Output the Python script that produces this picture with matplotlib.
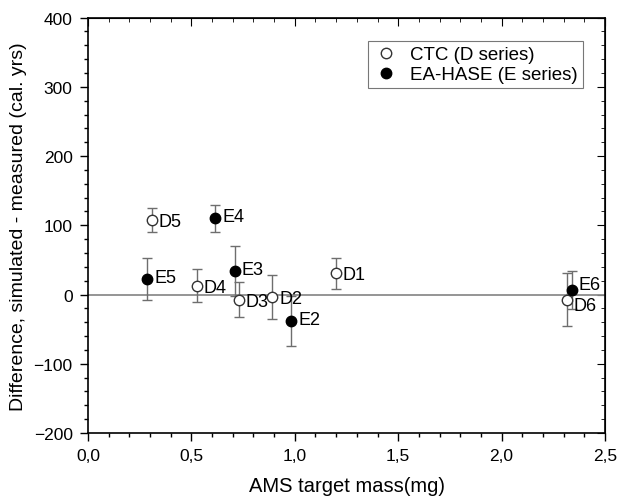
import matplotlib
matplotlib.use("Agg")
import matplotlib.pyplot as plt
from matplotlib.ticker import MultipleLocator, FuncFormatter

plt.rcParams["font.family"] = ["Liberation Sans", "DejaVu Sans"]

# CTC (D series)
d_labels = ["D1", "D2", "D3", "D4", "D5", "D6"]
d_mass = [1.198, 0.890, 0.729, 0.526, 0.308, 2.315]
d_diff = [30.6, -3.6, -7.5, 12.7, 108.0, -7.5]
d_err = [22, 31.5, 25, 24, 17, 38]

# EA-HASE (E series)
e_labels = ["E2", "E3", "E4", "E5", "E6"]
e_mass = [0.982, 0.709, 0.616, 0.287, 2.339]
e_diff = [-37.8, 33.5, 110.0, 22.4, 6.5]
e_err = [36, 36, 20, 30, 28]

fig = plt.figure(figsize=(6.18, 5.02), dpi=100)
ax = fig.add_axes([0.1424, 0.1355, 0.979 - 0.1424, 0.963 - 0.1355])

ax.axhline(0, color="#8c8c8c", lw=1.3, zorder=1)

err_kw = dict(fmt="none", ecolor="#6e6e6e", elinewidth=1.0, capsize=3.5, capthick=1.0, zorder=2)
ax.errorbar(d_mass, d_diff, yerr=d_err, **err_kw)
ax.errorbar(e_mass, e_diff, yerr=e_err, **err_kw)

ax.plot(d_mass, d_diff, "o", ms=7.5, mfc="white", mec="#333333", mew=1.0,
        ls="none", label="CTC (D series)", zorder=3)
ax.plot(e_mass, e_diff, "o", ms=7.5, mfc="black", mec="black", mew=1.0,
        ls="none", label="EA-HASE (E series)", zorder=4)

for x, y, t in zip(d_mass, d_diff, d_labels):
    dy = -4 if t == "D6" else -1
    ax.annotate(t, (x, y), xytext=(5, dy), textcoords="offset points",
                ha="left", va="center", fontsize=13)
for x, y, t in zip(e_mass, e_diff, e_labels):
    dy = 4 if t == "E6" else 1
    ax.annotate(t, (x, y), xytext=(5, dy), textcoords="offset points",
                ha="left", va="center", fontsize=13)

ax.set_xlim(0, 2.5)
ax.set_ylim(-200, 400)
ax.xaxis.set_major_locator(MultipleLocator(0.5))
ax.xaxis.set_minor_locator(MultipleLocator(0.1))
ax.yaxis.set_major_locator(MultipleLocator(100))
ax.yaxis.set_minor_locator(MultipleLocator(20))
ax.xaxis.set_major_formatter(FuncFormatter(lambda v, p: f"{v:.1f}".replace(".", ",")))
ax.yaxis.set_major_formatter(FuncFormatter(lambda v, p: f"{v:.0f}".replace("-", "\u2212")))

ax.tick_params(which="both", direction="out", top=False, right=False, labelsize=12.5)
ax.tick_params(which="major", length=6, width=1.0, pad=5)
ax.tick_params(which="minor", length=3, width=1.0)
# mirrored inward ticks on top/right
secx = ax.secondary_xaxis("top")
secx.xaxis.set_major_locator(MultipleLocator(0.5))
secx.xaxis.set_minor_locator(MultipleLocator(0.1))
secx.tick_params(which="both", direction="in", labeltop=False)
secx.tick_params(which="major", length=6)
secx.tick_params(which="minor", length=3)
secy = ax.secondary_yaxis("right")
secy.yaxis.set_major_locator(MultipleLocator(100))
secy.yaxis.set_minor_locator(MultipleLocator(20))
secy.tick_params(which="both", direction="in", labelright=False)
secy.tick_params(which="major", length=6)
secy.tick_params(which="minor", length=3)

for s in ax.spines.values():
    s.set_linewidth(1.2)

ax.set_xlabel("AMS target mass(mg)", fontsize=14.5, labelpad=9)
ax.set_ylabel("Difference, simulated - measured (cal. yrs)", fontsize=14, labelpad=5)

leg = ax.legend(loc="upper right", bbox_to_anchor=(0.975, 0.965), fontsize=13.5,
                frameon=True, fancybox=False, edgecolor="#555555",
                handletextpad=0.6, borderpad=0.25, labelspacing=0.15, handlelength=1.4)
leg.get_frame().set_linewidth(0.8)

fig.savefig("out.png", dpi=100)
